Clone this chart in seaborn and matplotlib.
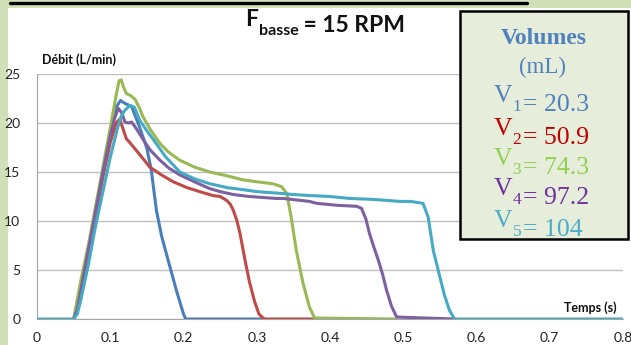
import matplotlib
matplotlib.use("Agg")
import matplotlib.pyplot as plt
from matplotlib.patches import Rectangle
from matplotlib.lines import Line2D
from matplotlib.text import Annotation
import seaborn as sns

# flow curves (time in s, flow in L/min)
t1 = [0.05, 0.055, 0.06, 0.07, 0.08, 0.09, 0.10, 0.108, 0.114, 0.12, 0.129, 0.14, 0.15,
      0.156, 0.163, 0.17, 0.179, 0.19, 0.2, 0.203, 0.31]
q1 = [0, 1, 3, 7, 11, 15, 19, 21.6, 22.3, 22.0, 21.7, 19.6, 17.4,
      15.2, 11.1, 8.5, 6, 3, 0.5, 0, 0]

t2 = [0.05, 0.055, 0.06, 0.07, 0.08, 0.09, 0.10, 0.108, 0.113, 0.117, 0.122, 0.129, 0.14,
      0.154, 0.17, 0.186, 0.205, 0.222, 0.24, 0.25, 0.259, 0.264, 0.268, 0.273, 0.277,
      0.284, 0.29, 0.297, 0.303, 0.31, 0.38]
q2 = [0, 1, 2.5, 6.5, 10.5, 14.5, 18, 20, 20.4, 19.5, 18.4, 17.8, 16.8,
      15.5, 14.7, 14, 13.4, 13, 12.6, 12.5, 12.1, 11.7, 11.1, 10, 8.8,
      6, 3.8, 1.8, 0.5, 0, 0]

t3 = [0.05, 0.055, 0.06, 0.07, 0.08, 0.09, 0.10, 0.108, 0.112, 0.115, 0.118, 0.122, 0.128,
      0.134, 0.14, 0.145, 0.155, 0.168, 0.18, 0.195, 0.215, 0.236, 0.26, 0.281, 0.3,
      0.322, 0.334, 0.341, 0.347, 0.354, 0.363, 0.372, 0.379, 0.49]
q3 = [0, 2, 4, 7.5, 11.5, 15.5, 19.5, 22.8, 24.3, 24.4, 23.7, 23.0, 22.8,
      22.4, 21.5, 20.6, 19.3, 17.9, 17, 16.2, 15.5, 15, 14.6, 14.2, 14,
      13.8, 13.5, 12.8, 10.4, 7, 3.7, 1.2, 0.1, 0]

t4 = [0.05, 0.055, 0.06, 0.07, 0.08, 0.09, 0.10, 0.106, 0.111, 0.116, 0.12, 0.125, 0.129,
      0.135, 0.145, 0.155, 0.168, 0.18, 0.195, 0.215, 0.236, 0.25, 0.268, 0.29, 0.327,
      0.336, 0.372, 0.382, 0.41, 0.436, 0.443, 0.449, 0.454, 0.46, 0.466, 0.472, 0.477,
      0.484, 0.491, 0.57]
q4 = [0, 1, 3, 7, 11, 15, 18.7, 20.5, 21.5, 21, 20.1, 20, 20.1,
      19.5, 18.3, 17.2, 16.2, 15.4, 14.7, 14, 13.3, 13, 12.7, 12.5, 12.3,
      12.3, 12, 11.8, 11.6, 11.5, 11.3, 10.2, 8.7, 7.3, 6, 4.5, 3,
      1.3, 0.2, 0]

t5 = [0, 0.05, 0.055, 0.06, 0.07, 0.08, 0.09, 0.10, 0.11, 0.115, 0.12, 0.127, 0.133,
      0.14, 0.15, 0.159, 0.175, 0.195, 0.215, 0.236, 0.26, 0.281, 0.3, 0.336, 0.35,
      0.372, 0.4, 0.427, 0.46, 0.495, 0.51, 0.527, 0.534, 0.541, 0.55, 0.556, 0.563,
      0.57, 0.8]
q5 = [0, 0, 0.5, 2, 5.5, 9.5, 13, 16.5, 19.5, 20.7, 21.3, 21.8, 21.6,
      20.3, 19.2, 18.3, 16.6, 15, 14.3, 13.8, 13.4, 13.2, 13.0, 12.8, 12.7,
      12.6, 12.5, 12.3, 12.2, 12, 12, 11.8, 10.4, 7, 4.3, 2.5, 0.9,
      0, 0]

line_colors = ["#4a7ebb", "#be4b48", "#98b954", "#7d60a0", "#46aac5"]
vol_names = ["1", "2", "3", "4", "5"]
vol_values = ["20.3", "50.9", "74.3", "97.2", "104"]
vol_colors = ["#4f81bd", "#c00000", "#92d050", "#7030a0", "#4bacc6"]

sns.set_style("white")
plt.rcParams["font.family"] = ["Lato", "DejaVu Sans"]

W, H = 631, 345
fig = plt.figure(figsize=(W / 100, H / 100), dpi=100)


def fx(x):
    return x / W


def fy(y):
    return 1 - y / H


def chain(prev, s, dx, dy, **kw):
    # put a piece of text right after the previous one (figure level)
    a = Annotation(s, xy=(1, 0), xycoords=prev, xytext=(dx, dy),
                   textcoords="offset points", va="baseline", ha="left",
                   annotation_clip=False, **kw)
    fig.add_artist(a)
    return a


# green frame strips on the left and top
fig.add_artist(Rectangle((0, 0), fx(8), 1, transform=fig.transFigure,
                         facecolor="#d1e0b7", edgecolor="none", zorder=0))
fig.add_artist(Rectangle((0, fy(8)), 1, 8 / H, transform=fig.transFigure,
                         facecolor="#d1e0b7", edgecolor="none", zorder=0))
fig.add_artist(Line2D([fx(10), fx(527)], [fy(2.5), fy(2.5)], transform=fig.transFigure,
                      color="black", lw=2.4, zorder=1))

ax = fig.add_axes([fx(37), fy(319), fx(623) - fx(37), fy(74) - fy(319)])
ax.set_facecolor("none")

for t, q, c in zip([t1, t2, t3, t4, t5], [q1, q2, q3, q4, q5], line_colors):
    sns.lineplot(x=t, y=q, color=c, lw=2.2, ax=ax, zorder=3)

ax.set_xlim(0, 0.8)
ax.set_ylim(0, 25)
ax.set_xticks([0, 0.1, 0.2, 0.3, 0.4, 0.5, 0.6, 0.7, 0.8])
ax.set_xticklabels(["0", "0.1", "0.2", "0.3", "0.4", "0.5", "0.6", "0.7", "0.8"])
ax.set_yticks([0, 5, 10, 15, 20, 25])
ax.yaxis.grid(True, color="#c0c0c0", lw=1)
ax.tick_params(axis="both", length=0, labelsize=10, labelcolor="#222222")
ax.tick_params(axis="y", pad=12)
ax.tick_params(axis="x", pad=9)
for s in ["top", "right"]:
    ax.spines[s].set_visible(False)
ax.spines["left"].set_color("#a6a6a6")
ax.spines["bottom"].set_color("#a6a6a6")
ax.set_xlabel("")
ax.set_ylabel("")

fig.text(fx(42), fy(60), "Débit (L/min)", fontsize=9, fontweight="bold",
         ha="left", va="center", color="#111111")
fig.text(fx(617), fy(308), "Temps (s)", fontsize=9, fontweight="bold",
         ha="right", va="center", color="#111111")

# title with subscript
tF = fig.text(fx(245), fy(25.5), "F", fontsize=16.5, fontweight="bold", ha="left",
              va="baseline", color="#111111")
tb = chain(tF, "basse", 0.5, -4, fontsize=11.5, fontweight="bold", color="#111111")
chain(tb, " = 15 RPM", 0, 4, fontsize=16.5, fontweight="bold", color="#111111")

# volumes box
fig.add_artist(Rectangle((fx(460), fy(239)), fx(628) - fx(460), (239 - 11) / H,
                         transform=fig.transFigure, facecolor="#e6edda",
                         edgecolor="black", lw=1.8, zorder=5))
serif = ["Liberation Serif", "DejaVu Serif"]
fig.text(fx(544), fy(39), "Volumes", family=serif, fontsize=17, fontweight="bold",
         color="#4f81bd", ha="center", va="center", zorder=6)
fig.text(fx(543), fy(67), "(mL)", family=serif, fontsize=16.5,
         color="#4f81bd", ha="center", va="center", zorder=6)

row_y = [102, 135, 165, 195, 227]
for name, val, c, y in zip(vol_names, vol_values, vol_colors, row_y):
    tv = fig.text(fx(494), fy(y), "V", family=serif, fontsize=18.5, color=c,
                  ha="left", va="baseline", zorder=6)
    ts = chain(tv, name, 0, -3, family=serif, fontsize=12.5, color=c, zorder=6)
    chain(ts, "= " + val, 1.5, 3, family=serif, fontsize=18.5, color=c, zorder=6)

fig.savefig("out.png", dpi=100)
